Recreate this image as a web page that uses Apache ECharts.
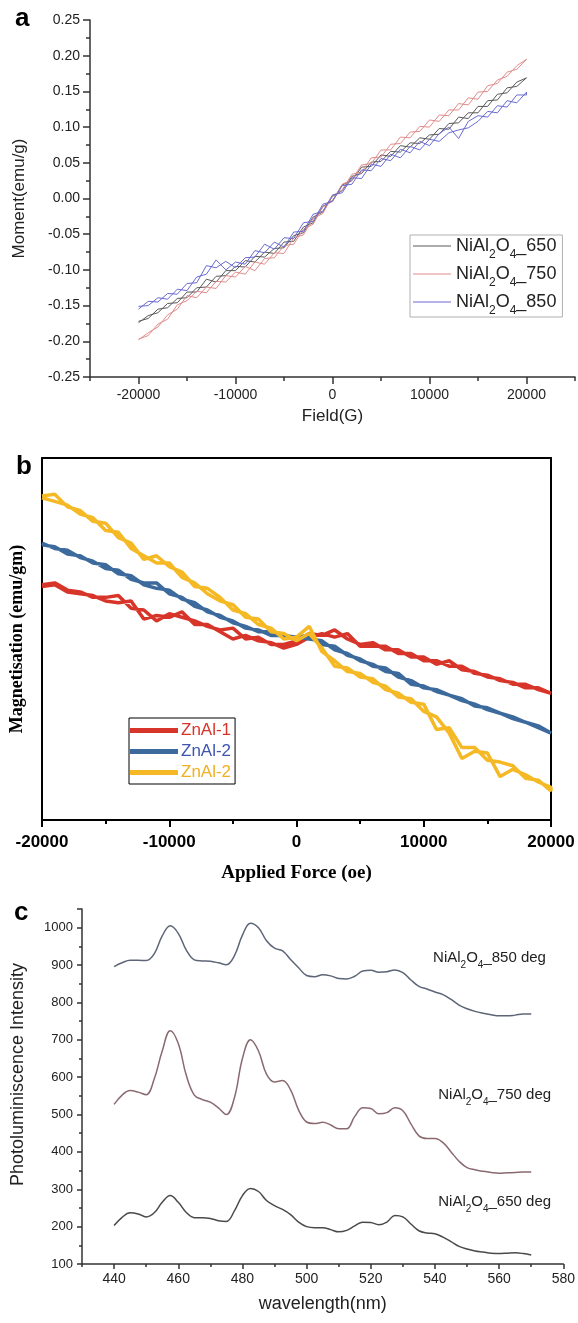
<!DOCTYPE html>
<html><head><meta charset="utf-8">
<script src="https://cdn.jsdelivr.net/npm/echarts@6/dist/echarts.min.js"></script>
<style>html,body{margin:0;padding:0;background:#fff}#c{width:578px;height:1323px}</style>
</head><body><div id="c"></div>
<script>
// ---------- Panel a : Moment vs Field ----------
const fieldG = [-20000,-19000,-18000,-17000,-16000,-15000,-14000,-13000,-12000,-11000,-10000,-9000,-8000,-7000,-6000,-5000,-4000,-3000,-2000,-1000,0,1000,2000,3000,4000,5000,6000,7000,8000,9000,10000,11000,12000,13000,14000,15000,16000,17000,18000,19000,20000];
const namesA = ['NiAl2O4_650','NiAl2O4_750','NiAl2O4_850'];
const m650Up = [-0.174,-0.164,-0.160,-0.147,-0.146,-0.131,-0.131,-0.113,-0.117,-0.101,-0.101,-0.087,-0.089,-0.075,-0.077,-0.061,-0.060,-0.040,-0.034,-0.011,-0.003,0.019,0.025,0.044,0.045,0.061,0.059,0.074,0.072,0.085,0.083,0.098,0.097,0.114,0.112,0.129,0.129,0.146,0.148,0.163,0.169];
const m650Down = [-0.172,-0.168,-0.155,-0.153,-0.140,-0.139,-0.125,-0.124,-0.109,-0.108,-0.095,-0.096,-0.081,-0.082,-0.070,-0.069,-0.052,-0.048,-0.026,-0.019,0.003,0.011,0.031,0.035,0.051,0.052,0.066,0.065,0.078,0.077,0.089,0.090,0.105,0.106,0.120,0.120,0.137,0.138,0.155,0.157,0.167];
const m750Up = [-0.198,-0.188,-0.180,-0.163,-0.155,-0.136,-0.139,-0.124,-0.126,-0.108,-0.110,-0.095,-0.101,-0.084,-0.083,-0.066,-0.064,-0.043,-0.036,-0.012,-0.004,0.020,0.026,0.047,0.049,0.068,0.068,0.086,0.085,0.101,0.100,0.117,0.116,0.133,0.131,0.149,0.150,0.166,0.171,0.186,0.195];
const m750Down = [-0.197,-0.192,-0.176,-0.169,-0.149,-0.143,-0.130,-0.132,-0.116,-0.117,-0.103,-0.106,-0.089,-0.092,-0.076,-0.077,-0.055,-0.051,-0.028,-0.021,0.004,0.012,0.034,0.037,0.057,0.058,0.076,0.077,0.093,0.094,0.110,0.108,0.124,0.124,0.141,0.139,0.158,0.161,0.177,0.181,0.193];
const m850Up = [-0.155,-0.144,-0.145,-0.133,-0.134,-0.119,-0.118,-0.094,-0.097,-0.088,-0.097,-0.083,-0.082,-0.064,-0.071,-0.055,-0.056,-0.034,-0.032,-0.008,-0.004,0.018,0.020,0.040,0.039,0.056,0.053,0.069,0.064,0.080,0.074,0.091,0.100,0.084,0.108,0.116,0.114,0.130,0.128,0.145,0.145];
const m850Down = [-0.151,-0.150,-0.139,-0.141,-0.127,-0.129,-0.110,-0.106,-0.086,-0.100,-0.089,-0.092,-0.073,-0.076,-0.061,-0.068,-0.047,-0.046,-0.022,-0.018,0.005,0.008,0.029,0.028,0.048,0.045,0.062,0.057,0.073,0.068,0.083,0.080,0.092,0.096,0.099,0.108,0.122,0.120,0.137,0.134,0.149];
const fieldTicksMajor = [-20000,-10000,0,10000,20000];
const fieldTicksMinor = [-25000,-15000,-5000,5000,15000,25000];

// ---------- Panel b : Magnetisation vs Applied Force ----------
const forceOe = fieldG;
const namesB = ['ZnAl-1','ZnAl-2','ZnAl-2'];
const znal1Up = [0.30,0.31,0.27,0.26,0.23,0.23,0.24,0.17,0.16,0.10,0.14,0.12,0.10,0.07,0.05,0.06,0.00,0.01,-0.03,-0.03,-0.01,0.03,0.02,0.05,0.00,-0.03,-0.02,-0.06,-0.06,-0.10,-0.10,-0.14,-0.12,-0.17,-0.18,-0.21,-0.22,-0.25,-0.25,-0.28,-0.30];
const znal1Down = [0.29,0.30,0.26,0.25,0.24,0.21,0.20,0.21,0.11,0.13,0.12,0.15,0.08,0.08,0.04,0.00,0.02,-0.01,-0.02,-0.05,-0.03,0.01,0.03,0.01,0.03,-0.04,-0.04,-0.04,-0.08,-0.08,-0.12,-0.12,-0.15,-0.15,-0.19,-0.20,-0.23,-0.24,-0.27,-0.27,-0.31];
const znal2Up = [0.53,0.50,0.49,0.45,0.43,0.39,0.38,0.33,0.31,0.31,0.25,0.23,0.18,0.16,0.12,0.10,0.06,0.05,0.02,0.02,0.01,0.02,-0.03,-0.04,-0.09,-0.11,-0.15,-0.16,-0.21,-0.23,-0.27,-0.28,-0.31,-0.33,-0.37,-0.38,-0.41,-0.43,-0.46,-0.48,-0.52];
const znal2Down = [0.52,0.51,0.47,0.46,0.42,0.41,0.36,0.35,0.30,0.28,0.27,0.22,0.20,0.15,0.13,0.09,0.07,0.04,0.04,0.01,0.01,0.00,-0.01,-0.06,-0.08,-0.12,-0.14,-0.18,-0.19,-0.25,-0.26,-0.29,-0.31,-0.34,-0.36,-0.39,-0.41,-0.44,-0.46,-0.49,-0.51];
const znal3Up = [0.79,0.80,0.73,0.71,0.65,0.64,0.56,0.53,0.44,0.46,0.40,0.37,0.29,0.28,0.23,0.16,0.14,0.08,0.06,0.00,0.01,0.07,-0.07,-0.12,-0.18,-0.19,-0.24,-0.26,-0.32,-0.33,-0.40,-0.43,-0.52,-0.66,-0.62,-0.63,-0.76,-0.72,-0.75,-0.79,-0.82];
const znal3Down = [0.78,0.76,0.74,0.69,0.67,0.60,0.59,0.50,0.46,0.42,0.42,0.34,0.31,0.25,0.21,0.19,0.12,0.11,0.04,0.03,-0.01,0.03,-0.05,-0.15,-0.16,-0.21,-0.22,-0.28,-0.30,-0.35,-0.36,-0.50,-0.49,-0.60,-0.60,-0.67,-0.68,-0.70,-0.77,-0.78,-0.84];

// ---------- Panel c : Photoluminescence ----------
const wavelength = [440,442.5,445,447.5,450,452.5,455,457.5,460,462.5,465,467.5,470,472.5,475,477.5,480,482.5,485,487.5,490,492.5,495,497.5,500,502.5,505,507.5,510,512.5,515,517.5,520,522.5,525,527.5,530,532.5,535,537.5,540,542.5,545,547.5,550,552.5,555,557.5,560,562.5,565,567.5,570];
const pl850 = [896,906,913,913,912,930,978,1005,985,940,914,911,910,906,901,925,980,1012,1000,965,945,938,915,893,872,869,874,871,864,863,870,884,886,881,882,887,880,860,843,836,828,821,808,793,783,776,771,767,764,764,766,769,769];
const pl750 = [527,552,564,560,553,595,670,724,690,605,552,540,533,518,500,545,650,700,670,608,587,591,566,512,480,476,479,472,462,462,495,518,516,502,505,518,510,475,443,436,436,425,400,375,358,352,348,345,343,344,345,346,346];
const pl650 = [203,225,237,234,226,237,265,283,265,238,224,224,222,216,214,242,283,302,294,270,256,246,232,212,200,197,197,192,186,190,202,212,211,205,212,230,226,207,189,183,181,172,160,147,140,135,132,129,128,129,130,128,124];
const namesC = ['NiAl2O4_850 deg','NiAl2O4_750 deg','NiAl2O4_650 deg'];
const wlTicksMajor = [440,460,480,500,520,540,560,580];
const wlTicksMinor = [430,450,470,490,510,530,550,570];

// ---------- helpers ----------
const SANS = '"Liberation Sans", Arial, sans-serif';
const SERIF = '"Liberation Serif", "Times New Roman", serif';
function loop(xs, up, down) {
  const pts = xs.map((x, i) => [x, up[i]]);
  for (let i = xs.length - 1; i >= 0; i--) pts.push([xs[i], down[i]]);
  return pts;
}
function chem(name, n, s) {
  const rest = name.replace(/^NiAl2O4/, '');
  return '{' + n + '|NiAl}{' + s + '|2}{' + n + '|O}{' + s + '|4}{' + n + '|' + rest + '}';
}
const plain = v => String(v);

const chart = echarts.init(document.getElementById('c'));
const axisDark = '#333';

const colorsA = ['#5a5a5a', '#e08c8c', '#6a6ad2'];
const colorsB = ['#d8352a', '#3d6a9c', '#f5b925'];
const colorsC = ['#5d6677', '#8a6a70', '#4a4a4a'];

const labelPos = [[557, 920], [558.6, 553], [558.6, 267]];

const option = {
  backgroundColor: '#fff',
  animation: false,
  graphic: [
    { type: 'text', left: 15, top: 6, style: { text: 'a', font: 'bold 26px ' + SANS, fill: '#000' } },
    { type: 'text', left: 16, top: 454, style: { text: 'b', font: 'bold 26px ' + SANS, fill: '#000' } },
    { type: 'text', left: 14, top: 900, style: { text: 'c', font: 'bold 26px ' + SANS, fill: '#000' } }
  ],
  grid: [
    { left: 90, top: 20, width: 485, height: 357 },
    { left: 42, top: 458, width: 509, height: 362 },
    { left: 82, top: 909, width: 484, height: 355 }
  ],
  legend: [
    {
      data: namesA.map(n => ({ name: n, icon: 'rect' })), orient: 'vertical', left: 410, top: 235,
      borderColor: '#b0b0b0', borderWidth: 1, padding: [2, 6, 0, 3], itemGap: 4,
      itemWidth: 38, itemHeight: 1,
      formatter: name => chem(name, 'n', 's'),
      textStyle: {
        rich: {
          n: { fontSize: 18, fontFamily: SANS, color: '#222', lineHeight: 24 },
          s: { fontSize: 12, fontFamily: SANS, color: '#222', lineHeight: 24, verticalAlign: 'bottom', padding: [0, 0, -3, 0] }
        }
      }
    },
    {
      data: [
        { name: 'ZnAl-1', icon: 'rect', textStyle: { color: '#d8352a' } },
        { name: 'ZnAl-2', icon: 'rect', textStyle: { color: '#3f56b0' } },
        { name: 'ZnAl-2b', icon: 'rect', textStyle: { color: '#f0b020' } }
      ],
      orient: 'vertical', left: 129, top: 718,
      borderColor: '#000', borderWidth: 1, padding: [4, 4, 3, 1], itemGap: 4,
      itemWidth: 48, itemHeight: 5,
      formatter: name => name === 'ZnAl-2b' ? namesB[2] : name,
      textStyle: { fontSize: 17, fontFamily: SANS, padding: [0, 0, 0, -2] }
    }
  ],
  xAxis: [
    { // a main
      gridIndex: 0, type: 'value', min: -25000, max: 25000, position: 'bottom',
      splitLine: { show: false },
      axisLine: { onZero: false, lineStyle: { color: axisDark, width: 1.5 } },
      axisTick: { customValues: fieldTicksMajor, length: 7, lineStyle: { color: axisDark, width: 1.5 } },
      axisLabel: { customValues: fieldTicksMajor, formatter: plain, fontSize: 14, fontFamily: SANS, color: '#222', margin: 11 },
      name: 'Field(G)', nameLocation: 'middle', nameGap: 31,
      nameTextStyle: { fontSize: 17, fontFamily: SANS, color: '#222' }
    },
    { // a minor ticks
      gridIndex: 0, type: 'value', min: -25000, max: 25000, position: 'bottom',
      splitLine: { show: false }, axisLine: { show: false, onZero: false },
      axisTick: { customValues: fieldTicksMinor, length: 4, lineStyle: { color: axisDark, width: 1.5 } },
      axisLabel: { show: false }
    },
    { // b main
      gridIndex: 1, type: 'value', min: -20000, max: 20000, interval: 10000, position: 'bottom',
      splitLine: { show: false },
      axisLine: { onZero: false, lineStyle: { color: '#000', width: 2 } },
      axisTick: { length: 7, lineStyle: { color: '#000', width: 2 } },
      minorTick: { show: true, splitNumber: 2, length: 4, lineStyle: { color: '#000', width: 2 } },
      axisLabel: { formatter: plain, fontSize: 17, fontWeight: 'bold', fontFamily: SANS, color: '#000', margin: 14 },
      name: 'Applied Force (oe)', nameLocation: 'middle', nameGap: 44,
      nameTextStyle: { fontSize: 19, fontWeight: 'bold', fontFamily: SERIF, color: '#000' }
    },
    { // b top frame
      gridIndex: 1, type: 'value', min: -20000, max: 20000, position: 'top',
      splitLine: { show: false },
      axisLine: { onZero: false, lineStyle: { color: '#000', width: 2 } },
      axisTick: { show: false }, axisLabel: { show: false }
    },
    { // c main
      gridIndex: 2, type: 'value', min: 430, max: 580, position: 'bottom',
      splitLine: { show: false },
      axisLine: { onZero: false, lineStyle: { color: axisDark, width: 1.5 } },
      axisTick: { customValues: wlTicksMajor, length: 5, lineStyle: { color: axisDark, width: 1.5 } },
      axisLabel: { customValues: wlTicksMajor, formatter: plain, fontSize: 14, fontFamily: SANS, color: '#222', margin: 8 },
      name: 'wavelength(nm)', nameLocation: 'middle', nameGap: 31,
      nameTextStyle: { fontSize: 18, fontFamily: SANS, color: '#222' }
    },
    { // c minor
      gridIndex: 2, type: 'value', min: 430, max: 580, position: 'bottom',
      splitLine: { show: false }, axisLine: { show: false, onZero: false },
      axisTick: { customValues: wlTicksMinor, length: 3, lineStyle: { color: axisDark, width: 1.5 } },
      axisLabel: { show: false }
    }
  ],
  yAxis: [
    { // a
      gridIndex: 0, type: 'value', min: -0.25, max: 0.25, interval: 0.05,
      splitLine: { show: false },
      axisLine: { show: true, onZero: false, lineStyle: { color: axisDark, width: 1.5 } },
      axisTick: { show: true, length: 7, lineStyle: { color: axisDark, width: 1.5 } },
      minorTick: { show: true, splitNumber: 2, length: 4, lineStyle: { color: axisDark, width: 1.5 } },
      axisLabel: { fontSize: 14, fontFamily: SANS, color: '#222', margin: 10,
        formatter: v => (Math.abs(v) < 1e-9 ? 0 : v).toFixed(2) },
      name: 'Moment(emu/g)', nameLocation: 'middle', nameGap: 62,
      nameTextStyle: { fontSize: 17, fontFamily: SANS, color: '#222' }
    },
    { // b left
      gridIndex: 1, type: 'value', min: -1, max: 1, position: 'left',
      splitLine: { show: false },
      axisLine: { show: true, onZero: false, lineStyle: { color: '#000', width: 2 } },
      axisTick: { show: false }, axisLabel: { show: false },
      name: 'Magnetisation (emu/gm)', nameLocation: 'middle', nameGap: 16,
      nameTextStyle: { fontSize: 18, fontWeight: 'bold', fontFamily: SERIF, color: '#000' }
    },
    { // b right frame
      gridIndex: 1, type: 'value', min: -1, max: 1, position: 'right',
      splitLine: { show: false },
      axisLine: { show: true, onZero: false, lineStyle: { color: '#000', width: 2 } },
      axisTick: { show: false }, axisLabel: { show: false }
    },
    { // c
      gridIndex: 2, type: 'value', min: 100, max: 1050, interval: 100,
      splitLine: { show: false },
      axisLine: { show: true, onZero: false, lineStyle: { color: axisDark, width: 1.5 } },
      axisTick: { show: true, length: 5, lineStyle: { color: axisDark, width: 1.5 } },
      minorTick: { show: true, splitNumber: 2, length: 3, lineStyle: { color: axisDark, width: 1.5 } },
      axisLabel: { fontSize: 13, fontFamily: SANS, color: '#222', margin: 9,
        formatter: v => (v % 100 === 0 ? String(v) : '') },
      name: 'Photoluminiscence Intensity', nameLocation: 'middle', nameGap: 55,
      nameTextStyle: { fontSize: 18, fontFamily: SANS, color: '#222', padding: [0, 0, 0, 24] }
    }
  ],
  series: [
    // panel a
    { name: namesA[0], type: 'line', xAxisIndex: 0, yAxisIndex: 0, symbol: 'none',
      lineStyle: { color: colorsA[0], width: 1 }, itemStyle: { color: colorsA[0] },
      data: loop(fieldG, m650Up, m650Down) },
    { name: namesA[1], type: 'line', xAxisIndex: 0, yAxisIndex: 0, symbol: 'none',
      lineStyle: { color: colorsA[1], width: 1 }, itemStyle: { color: colorsA[1] },
      data: loop(fieldG, m750Up, m750Down) },
    { name: namesA[2], type: 'line', xAxisIndex: 0, yAxisIndex: 0, symbol: 'none',
      lineStyle: { color: colorsA[2], width: 1 }, itemStyle: { color: colorsA[2] },
      data: loop(fieldG, m850Up, m850Down) },
    // panel b
    { name: 'ZnAl-1', type: 'line', xAxisIndex: 2, yAxisIndex: 1, symbol: 'none',
      lineStyle: { color: colorsB[0], width: 3.5 }, itemStyle: { color: colorsB[0] },
      data: loop(forceOe, znal1Up, znal1Down) },
    { name: 'ZnAl-2', type: 'line', xAxisIndex: 2, yAxisIndex: 1, symbol: 'none',
      lineStyle: { color: colorsB[1], width: 3.5 }, itemStyle: { color: colorsB[1] },
      data: loop(forceOe, znal2Up, znal2Down) },
    { name: 'ZnAl-2b', type: 'line', xAxisIndex: 2, yAxisIndex: 1, symbol: 'none',
      lineStyle: { color: colorsB[2], width: 3.5 }, itemStyle: { color: colorsB[2] },
      data: loop(forceOe, znal3Up, znal3Down) },
    // panel c
    ...[pl850, pl750, pl650].map((arr, k) => ({
      name: namesC[k], type: 'line', xAxisIndex: 4, yAxisIndex: 3, symbol: 'none', smooth: 0.4,
      lineStyle: { color: colorsC[k], width: 1.5 }, itemStyle: { color: colorsC[k] },
      data: wavelength.map((w, i) => [w, arr[i]]),
      markPoint: {
        symbol: 'circle', symbolSize: 1, itemStyle: { color: 'rgba(0,0,0,0)' }, silent: true,
        data: [{ coord: labelPos[k] }],
        label: {
          show: true, position: 'inside', formatter: chem(namesC[k], 'n', 's'),
          rich: {
            n: { fontSize: 15, fontFamily: SANS, color: '#222', lineHeight: 20 },
            s: { fontSize: 10, fontFamily: SANS, color: '#222', lineHeight: 20, verticalAlign: 'bottom', padding: [0, 0, -3, 0] }
          }
        }
      }
    }))
  ]
};
chart.setOption(option);
</script></body></html>
